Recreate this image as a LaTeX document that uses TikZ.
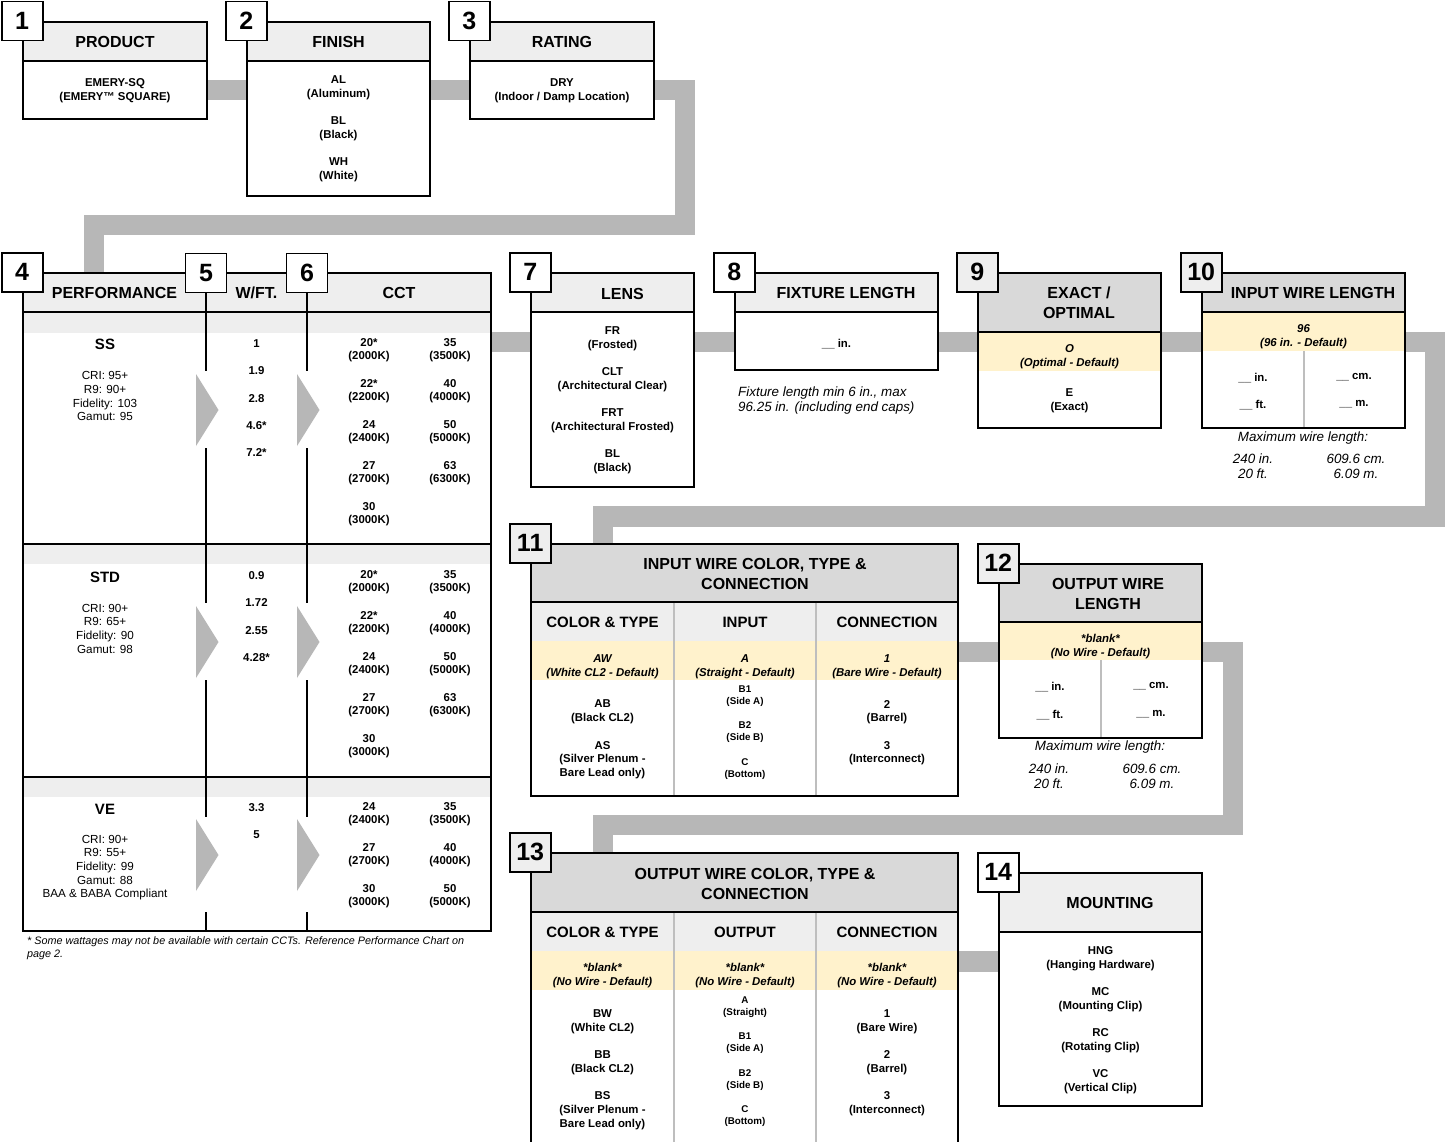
\documentclass[tikz,border=0pt]{standalone}
\usepackage{fontspec}
\setmainfont{Liberation Sans}
\usetikzlibrary{fit,backgrounds}

\definecolor{bandgray}{RGB}{183,183,183}
\definecolor{hdrlight}{RGB}{238,238,238}
\definecolor{hdrdark}{RGB}{217,217,217}
\definecolor{deflt}{RGB}{255,242,204}
\definecolor{rulegray}{RGB}{190,190,190}

\newcommand\tagfont{\fontsize{25}{25}\selectfont\bfseries}
\newcommand\headfont{\fontsize{16}{20}\selectfont\bfseries}
\newcommand\subfont{\fontsize{15}{18}\selectfont\bfseries}
\newcommand\itemfont{\fontsize{11.4}{13.7}\selectfont\bfseries}
\newcommand\smallfont{\fontsize{9.8}{12}\selectfont\bfseries}
\newcommand\specfont{\fontsize{11.7}{13.6}\selectfont}
\newcommand\notefont{\fontsize{13.4}{15}\selectfont\itshape}

% box with header: name, x1, y1, x2, y2, header bottom, header colour
\newcommand\skbox[7]{%
  \fill[white] (#2,#3) rectangle (#4,#5);
  \fill[#7] (#2,#3) rectangle (#4,#6);
  \draw[line width=1.6pt] (#2,#6) -- (#4,#6);
  \node[boxframe, fit={(#2,#3) (#4,#5)}] (#1) {};
}

\tikzset{
  band/.style={draw=bandgray, line width=20.5pt},
  boxframe/.style={draw, line width=1.6pt, inner sep=0pt},
  rule/.style={line width=1.6pt},
  divider/.style={draw=rulegray, line width=1.5pt},
  tag/.style={draw, line width=1.6pt, fill=white, minimum width=41pt,
    minimum height=39pt, inner sep=0pt, font=\tagfont},
  opttag/.style={tag, fill=hdrlight},
  headtxt/.style={align=center, font=\headfont, inner sep=0pt, yshift=-1pt},
  subtxt/.style={font=\subfont, inner sep=0pt, yshift=-0.5pt},
  itemtxt/.style={align=center, font=\itemfont, inner sep=0pt, yshift=-1.6pt},
  smalltxt/.style={align=center, font=\smallfont, inner sep=0pt, yshift=-1.4pt},
  dflttxt/.style={align=center, font=\itemfont\itshape, inner sep=0pt, yshift=-1.6pt},
  spectxt/.style={align=center, font=\specfont, inner sep=0pt, yshift=-1.2pt},
  notetxt/.style={align=center, font=\notefont, inner sep=0pt},
}

\begin{document}
\begin{tikzpicture}[x=1pt, y=-1pt, line join=miter]
\useasboundingbox (0,0) rectangle (1445,1142);
\clip (0,0) rectangle (1445,1142);

% 1 product
\skbox{prod}{23}{22}{207}{119}{61}{hdrlight}
\node[headtxt] (prod-h) at (115,41) {PRODUCT};
\node[itemtxt] (prod-1) at (115,89) {EMERY-SQ\\(EMERY™ SQUARE)};
\node[tag] (t1) at (prod.north west) {1};

% 2 finish
\skbox{fin}{247}{22}{430}{196}{61}{hdrlight}
\node[headtxt] (fin-h) at (338.5,41) {FINISH};
\foreach \t [count=\i] in {{AL\\(Aluminum)},{BL\\(Black)},{WH\\(White)}}
  \node[itemtxt] (fin-\i) at (338.5,{86.5+41*(\i-1)}) {\t};
\node[tag] (t2) at (fin.north west) {2};

% 3 rating
\skbox{rate}{470}{22}{654}{119}{61}{hdrlight}
\node[headtxt] (rate-h) at (562,41) {RATING};
\node[itemtxt] (rate-1) at (562,89) {DRY\\(Indoor / Damp Location)};
\node[tag] (t3) at (rate.north west) {3};

% 4-5-6 performance table
\skbox{perf}{23}{273}{491}{931}{312}{hdrlight}
\foreach \y in {312.8,544,777}
  \fill[hdrlight] (23.8,\y) rectangle (490.2,\y+20);
\draw[rule] (23,544) -- (491,544) (23,777) -- (491,777);
\foreach \cx in {206,307} {
  \draw[rule] (\cx,273) -- (\cx,371) (\cx,448) -- (\cx,603)
    (\cx,680) -- (\cx,817) (\cx,912) -- (\cx,931);
}
\foreach \cx in {196,297}
  \foreach \cy in {374,606,819}
    \fill[bandgray] (\cx,\cy) -- ++(22.5,36) -- ++(-22.5,36) -- cycle;
\node[headtxt] (perf-h) at (114.5,292) {PERFORMANCE};
\node[headtxt] (wft-h) at (256.5,292) {W/FT.};
\node[headtxt] (cct-h) at (399,292) {CCT};

\node[font=\fontsize{15}{18}\selectfont\bfseries, inner sep=0pt, yshift=-1pt] (ss) at (105,343) {SS};
\node[spectxt] (ss-spec) at (105,395) {CRI: 95+\\R9: 90+\\Fidelity: 103\\Gamut: 95};
\node[font=\fontsize{15}{18}\selectfont\bfseries, inner sep=0pt, yshift=-1pt] (std) at (105,576) {STD};
\node[spectxt] (std-spec) at (105,627.5) {CRI: 90+\\R9: 65+\\Fidelity: 90\\Gamut: 98};
\node[font=\fontsize{15}{18}\selectfont\bfseries, inner sep=0pt, yshift=-1pt] (ve) at (105,808) {VE};
\node[spectxt] (ve-spec) at (105,866.5) {CRI: 90+\\R9: 55+\\Fidelity: 99\\Gamut: 88\\BAA \& BABA Compliant};

\foreach \w [count=\i] in {1,1.9,2.8,4.6*,7.2*}
  \node[itemtxt] (ss-w\i) at (256.5,{342+27.25*(\i-1)}) {\w};
\foreach \w [count=\i] in {0.9,1.72,2.55,4.28*}
  \node[itemtxt] (std-w\i) at (256.5,{574+27.3*(\i-1)}) {\w};
\foreach \w [count=\i] in {3.3,5}
  \node[itemtxt] (ve-w\i) at (256.5,{806+27*(\i-1)}) {\w};

\foreach \sec/\y in {ss/348.5,std/580.5} {
  \foreach \c/\k [count=\i] in {20*/2000K,22*/2200K,24/2400K,27/2700K,30/3000K}
    \node[itemtxt] (\sec-l\i) at (369,{\y+41*(\i-1)}) {\c\\(\k)};
  \foreach \c/\k [count=\i] in {35/3500K,40/4000K,50/5000K,63/6300K}
    \node[itemtxt] (\sec-r\i) at (450,{\y+41*(\i-1)}) {\c\\(\k)};
}
\foreach \c/\k [count=\i] in {24/2400K,27/2700K,30/3000K}
  \node[itemtxt] (ve-l\i) at (369,{812.5+41*(\i-1)}) {\c\\(\k)};
\foreach \c/\k [count=\i] in {35/3500K,40/4000K,50/5000K}
  \node[itemtxt] (ve-r\i) at (450,{812.5+41*(\i-1)}) {\c\\(\k)};

\node[font=\fontsize{10.8}{13}\selectfont\itshape, inner sep=0pt, anchor=base west] (foot1) at (27,944)
  {* Some wattages may not be available with certain CCTs. Reference Performance Chart on};
\node[font=\fontsize{10.8}{13}\selectfont\itshape, inner sep=0pt, anchor=base west] (foot2) at (27,957) {page 2.};

\node[tag] (t4) at (perf.north west) {4};
\node[tag] (t5) at (206,273) {5};
\node[tag] (t6) at (307,273) {6};

% 7 lens
\skbox{lens}{531}{273}{694}{487}{312}{hdrlight}
\node[headtxt] (lens-h) at (622.5,293) {LENS};
\foreach \t [count=\i] in {{FR\\(Frosted)},{CLT\\(Architectural Clear)},
    {FRT\\(Architectural Frosted)},{BL\\(Black)}}
  \node[itemtxt] (lens-\i) at (612.5,{337+41*(\i-1)}) {\t};
\node[tag] (t7) at (lens.north west) {7};

% 8 fixture length
\skbox{fixlen}{735}{273}{938}{370}{312}{hdrlight}
\node[headtxt] (fixlen-h) at (846,292) {FIXTURE LENGTH};
\node[itemtxt] (fixlen-1) at (836.5,342) {\_\_ in.};
\node[notetxt, anchor=base west] (fixnote1) at (738,396) {Fixture length min 6 in., max};
\node[notetxt, anchor=base west] (fixnote2) at (738,411) {96.25 in. (including end caps)};
\node[tag] (t8) at (fixlen.north west) {8};

% 9 exact / optimal
\skbox{exact}{978}{273}{1161}{428}{332}{hdrdark}
\fill[deflt] (978.8,332.8) rectangle (1160.2,371);
\node[headtxt] (exact-h) at (1079,302) {EXACT /\\OPTIMAL};
\node[dflttxt] (exact-1) at (1069.5,355) {O\\(Optimal - Default)};
\node[itemtxt] (exact-2) at (1069.5,399) {E\\(Exact)};
\node[opttag] (t9) at (exact.north west) {9};

% 10 input wire length
\skbox{inlen}{1202}{273}{1405}{428}{312}{hdrdark}
\fill[deflt] (1202.8,312.8) rectangle (1404.2,351);
\draw[divider] (1304,351) -- (1304,427.2);
\node[headtxt] (inlen-h) at (1313,292) {INPUT WIRE LENGTH};
\node[dflttxt] (inlen-1) at (1303.5,335) {96\\(96 in. - Default)};
\node[itemtxt] (inlen-in) at (1253,376) {\_\_ in.};
\node[itemtxt] (inlen-cm) at (1354,376) {\_\_ cm.};
\node[itemtxt] (inlen-ft) at (1253,403) {\_\_ ft.};
\node[itemtxt] (inlen-m) at (1354,403) {\_\_ m.};
\node[notetxt] (inmax) at (1303,438.5) {Maximum wire length:};
\node[notetxt] (inmax-1) at (1253,466.5) {240 in.\\20 ft.};
\node[notetxt] (inmax-2) at (1356,466.5) {609.6 cm.\\6.09 m.};
\node[opttag] (t10) at (inlen.north west) {10};

% 11 input wire colour, type & connection
\skbox{incol}{531}{544}{958}{796}{602}{hdrdark}
\fill[hdrlight] (531.8,602.8) rectangle (957.2,641);
\fill[deflt] (531.8,641) rectangle (957.2,680);
\draw[divider] (674,602.8) -- (674,795.2) (816,602.8) -- (816,795.2);
\node[headtxt] (incol-h) at (755,573) {INPUT WIRE COLOR, TYPE \&\\CONNECTION};
\node[subtxt] (incol-s1) at (602.5,622) {COLOR \& TYPE};
\node[subtxt] (incol-s2) at (745,622) {INPUT};
\node[subtxt] (incol-s3) at (887,622) {CONNECTION};
\node[dflttxt] (incol-d1) at (602.5,665) {AW\\(White CL2 - Default)};
\node[dflttxt] (incol-d2) at (745,665) {A\\(Straight - Default)};
\node[dflttxt] (incol-d3) at (887,665) {1\\(Bare Wire - Default)};
\node[itemtxt] (incol-ab) at (602.5,710.5) {AB\\(Black CL2)};
\node[itemtxt] (incol-as) at (602.5,758.5) {AS\\(Silver Plenum -\\Bare Lead only)};
\node[smalltxt] (incol-b1) at (745,695) {B1\\(Side A)};
\node[smalltxt] (incol-b2) at (745,731) {B2\\(Side B)};
\node[smalltxt] (incol-c) at (745,768) {C\\(Bottom)};
\node[itemtxt] (incol-2) at (887,710.5) {2\\(Barrel)};
\node[itemtxt] (incol-3) at (887,751.5) {3\\(Interconnect)};
\node[opttag] (t11) at (incol.north west) {11};

% 12 output wire length
\skbox{outlen}{999}{564}{1202}{738}{622}{hdrdark}
\fill[deflt] (999.8,622.8) rectangle (1201.2,660);
\draw[divider] (1101,660) -- (1101,737.2);
\node[headtxt] (outlen-h) at (1108,592.5) {OUTPUT WIRE\\LENGTH};
\node[dflttxt] (outlen-1) at (1100.5,645) {*blank*\\(No Wire - Default)};
\node[itemtxt] (outlen-in) at (1050,685) {\_\_ in.};
\node[itemtxt] (outlen-cm) at (1151,685) {\_\_ cm.};
\node[itemtxt] (outlen-ft) at (1050,713) {\_\_ ft.};
\node[itemtxt] (outlen-m) at (1151,713) {\_\_ m.};
\node[notetxt] (outmax) at (1100,747.5) {Maximum wire length:};
\node[notetxt] (outmax-1) at (1049,776.5) {240 in.\\20 ft.};
\node[notetxt] (outmax-2) at (1152,776.5) {609.6 cm.\\6.09 m.};
\node[opttag] (t12) at (outlen.north west) {12};

% 13 output wire colour, type & connection
\skbox{outcol}{531}{853}{958}{1160}{912}{hdrdark}
\fill[hdrlight] (531.8,912.8) rectangle (957.2,951);
\fill[deflt] (531.8,951) rectangle (957.2,990);
\draw[divider] (674,912.8) -- (674,1160) (816,912.8) -- (816,1160);
\node[headtxt] (outcol-h) at (755,883) {OUTPUT WIRE COLOR, TYPE \&\\CONNECTION};
\node[subtxt] (outcol-s1) at (602.5,932) {COLOR \& TYPE};
\node[subtxt] (outcol-s2) at (745,932) {OUTPUT};
\node[subtxt] (outcol-s3) at (887,932) {CONNECTION};
\foreach \cx [count=\i] in {602.5,745,887}
  \node[dflttxt] (outcol-d\i) at (\cx,974) {*blank*\\(No Wire - Default)};
\node[itemtxt] (outcol-bw) at (602.5,1020) {BW\\(White CL2)};
\node[itemtxt] (outcol-bb) at (602.5,1061) {BB\\(Black CL2)};
\node[itemtxt] (outcol-bs) at (602.5,1109) {BS\\(Silver Plenum -\\Bare Lead only)};
\foreach \t [count=\i] in {{A\\(Straight)},{B1\\(Side A)},{B2\\(Side B)},{C\\(Bottom)}}
  \node[smalltxt] (outcol-o\i) at (745,{1005.5+36.5*(\i-1)}) {\t};
\foreach \t [count=\i] in {{1\\(Bare Wire)},{2\\(Barrel)},{3\\(Interconnect)}}
  \node[itemtxt] (outcol-c\i) at (887,{1020+41*(\i-1)}) {\t};
\node[opttag] (t13) at (outcol.north west) {13};

% 14 mounting
\skbox{mount}{999}{873}{1202}{1106}{932}{hdrlight}
\node[headtxt] (mount-h) at (1110,902) {MOUNTING};
\foreach \t [count=\i] in {{HNG\\(Hanging Hardware)},{MC\\(Mounting Clip)},
    {RC\\(Rotating Clip)},{VC\\(Vertical Clip)}}
  \node[itemtxt] (mount-\i) at (1100.5,{957+41*(\i-1)}) {\t};
\node[tag] (t14) at (mount.north west) {14};

% connectors
\begin{scope}[on background layer]
  \draw[band] (prod.east |- 0,90) -- (rate.east |- 0,90) -| (685,225)
    -| (perf.north -| 94,0);
  \draw[band] (perf.east |- 0,342) -- (1435,342) |- (603,516.5)
    -- (incol.north -| 603,0);
  \draw[band] (incol.east |- 0,652) -| (1233,825) -| (outcol.north -| 603,0);
  \draw[band] (outcol.east |- 0,961.5) -- (mount.west |- 0,961.5);
\end{scope}
\end{tikzpicture}
\end{document}
